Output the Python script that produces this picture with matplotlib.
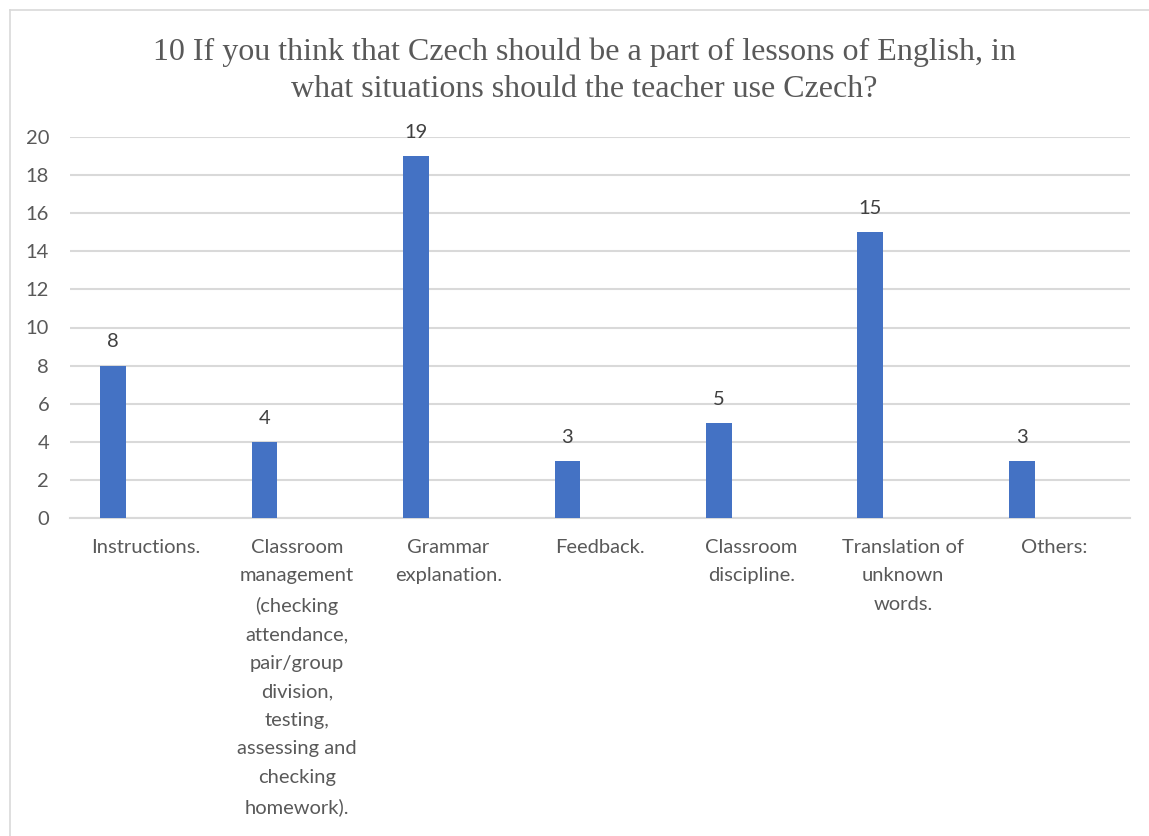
import matplotlib.pyplot as plt
from matplotlib.lines import Line2D
import numpy as np

categories = [
    "Instructions.",
    "Classroom\nmanagement\n(checking\nattendance,\npair/group\ndivision,\ntesting,\nassessing and\nchecking\nhomework).",
    "Grammar\nexplanation.",
    "Feedback.",
    "Classroom\ndiscipline.",
    "Translation of\nunknown\nwords.",
    "Others:",
]
counts = [8, 4, 19, 3, 5, 15, 3]
yticks = [0, 2, 4, 6, 8, 10, 12, 14, 16, 18, 20]

title = ("10 If you think that Czech should be a part of lessons of English, in\n"
         "what situations should the teacher use Czech?")

W, H = 1149, 836
fig = plt.figure(figsize=(W / 100, H / 100), dpi=100)
ax = fig.add_axes([70 / W, 1 - 518 / H, (1130 - 70) / W, (518 - 137) / H])

grid_c = "#d9d9d9"
text_c = "#595959"
font = "Lato"
fs = 14.5

x = np.arange(len(categories))
bars = ax.bar(x - 0.215, counts, width=0.17, color="#4472C4", zorder=3)
for b, v in zip(bars, counts):
    ax.text(b.get_x() + b.get_width() / 2, v + 0.8, str(v), ha="center", va="bottom",
            fontsize=fs, color="#404040", family=font)

ax.set_xlim(-0.5, len(categories) - 0.5)
ax.set_ylim(0, 20)
ax.set_yticks(yticks)
ax.set_xticks(x)
ax.set_xticklabels(categories, fontsize=fs, color=text_c, family=font, linespacing=1.82,
                   va="top")
for lbl in ax.get_yticklabels():
    lbl.set_fontsize(fs)
    lbl.set_color(text_c)
    lbl.set_family(font)
ax.tick_params(axis="both", length=0)
ax.tick_params(axis="x", pad=15)
ax.tick_params(axis="y", pad=15)
ax.grid(axis="y", color=grid_c, linewidth=1.5, zorder=0)
for s in ["top", "right", "left"]:
    ax.spines[s].set_visible(False)
ax.spines["bottom"].set_color(grid_c)
ax.spines["bottom"].set_linewidth(1.5)

fig.text(584 / W, 1 - 71 / H, title, ha="center", va="center", fontsize=23,
         color=text_c, family="Liberation Serif", linespacing=1.37)

# chart border
fig.add_artist(Line2D([10 / W, 1], [1 - 10 / H, 1 - 10 / H], color=grid_c, linewidth=1.2,
                      transform=fig.transFigure))
fig.add_artist(Line2D([10 / W, 10 / W], [0, 1 - 10 / H], color=grid_c, linewidth=1.2,
                      transform=fig.transFigure))

fig.savefig("out.png", dpi=100)
